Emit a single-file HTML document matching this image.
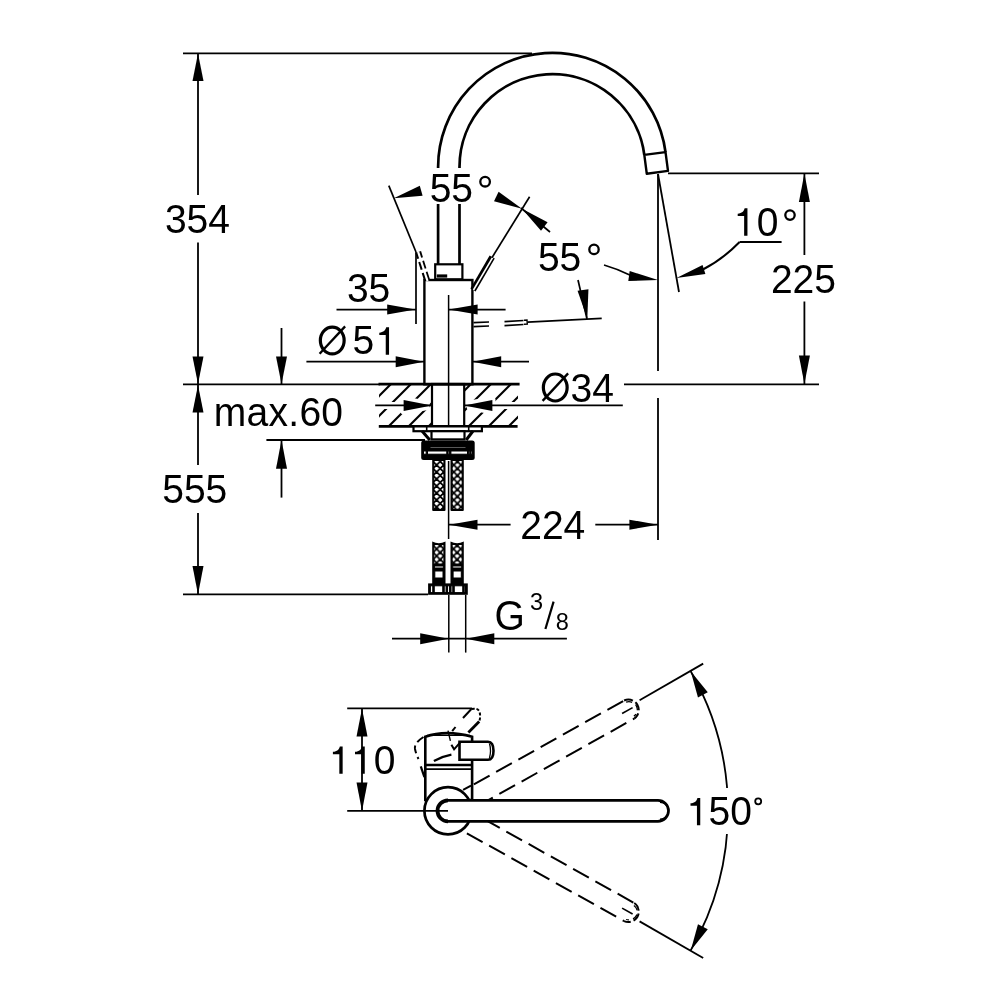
<!DOCTYPE html>
<html><head><meta charset="utf-8"><style>
html,body{margin:0;padding:0;background:#fff;overflow:hidden}
svg{display:block;will-change:transform}
text{font-family:"Liberation Sans",sans-serif;fill:#000;stroke:none}
.f{fill:#000;stroke:none}
</style></head><body>
<svg width="1000" height="1000" viewBox="0 0 1000 1000" stroke="#000" fill="none">
<defs>
<clipPath id="hatch"><path d="M379,385 H432 V426 H379 Z M464.2,385 H518 V426 H464.2 Z"/></clipPath>
<pattern id="d432" width="7.2" height="7.0" patternUnits="userSpaceOnUse" x="433.0" y="458.0">
<rect width="7.2" height="7.0" fill="#000"/>
<path d="M3.6,0.5 L6.6,3.5 L3.6,6.5 L0.6,3.5 Z M0,-3 L3,0 L0,3 L-3,0 Z M7.2,-3 L10.2,0 L7.2,3 L4.2,0 Z M0,4 L3,7 L0,10 L-3,7 Z M7.2,4 L10.2,7 L7.2,10 L4.2,7 Z" fill="#fff"/>
</pattern><pattern id="d450" width="7.2" height="7.0" patternUnits="userSpaceOnUse" x="453.8" y="461.5">
<rect width="7.2" height="7.0" fill="#000"/>
<path d="M3.6,0.5 L6.6,3.5 L3.6,6.5 L0.6,3.5 Z M0,-3 L3,0 L0,3 L-3,0 Z M7.2,-3 L10.2,0 L7.2,3 L4.2,0 Z M0,4 L3,7 L0,10 L-3,7 Z M7.2,4 L10.2,7 L7.2,10 L4.2,7 Z" fill="#fff"/>
</pattern><pattern id="e432" width="7.2" height="7.0" patternUnits="userSpaceOnUse" x="436.6" y="545.45">
<rect width="7.2" height="7.0" fill="#000"/>
<path d="M3.6,0.5 L6.6,3.5 L3.6,6.5 L0.6,3.5 Z M0,-3 L3,0 L0,3 L-3,0 Z M7.2,-3 L10.2,0 L7.2,3 L4.2,0 Z M0,4 L3,7 L0,10 L-3,7 Z M7.2,4 L10.2,7 L7.2,10 L4.2,7 Z" fill="#fff"/>
</pattern><pattern id="e450" width="7.2" height="7.0" patternUnits="userSpaceOnUse" x="453.5" y="545.45">
<rect width="7.2" height="7.0" fill="#000"/>
<path d="M3.6,0.5 L6.6,3.5 L3.6,6.5 L0.6,3.5 Z M0,-3 L3,0 L0,3 L-3,0 Z M7.2,-3 L10.2,0 L7.2,3 L4.2,0 Z M0,4 L3,7 L0,10 L-3,7 Z M7.2,4 L10.2,7 L7.2,10 L4.2,7 Z" fill="#fff"/>
</pattern>
</defs>
<line x1="183" y1="53.3" x2="532" y2="53.3" stroke-width="1.8" />
<line x1="198" y1="53" x2="198" y2="195" stroke-width="1.8" />
<line x1="198" y1="242.5" x2="198" y2="384" stroke-width="1.8" />
<path d="M198.00,53.50L192.50,81.00L203.50,81.00Z" class="f"/>
<path d="M198.00,384.00L203.50,356.50L192.50,356.50Z" class="f"/>
<text transform="translate(164.91,232.8) scale(0.98,1)" font-size="39.8" >354</text>
<line x1="183" y1="384.3" x2="380" y2="384.3" stroke-width="1.8" />
<line x1="378.5" y1="384.2" x2="519.6" y2="384.2" stroke-width="2.7" />
<line x1="624" y1="384.3" x2="819" y2="384.3" stroke-width="1.8" />
<line x1="198" y1="385" x2="198" y2="465" stroke-width="1.8" />
<line x1="198" y1="513" x2="198" y2="594.5" stroke-width="1.8" />
<path d="M198.00,385.00L192.50,412.60L203.50,412.60Z" class="f"/>
<path d="M198.00,594.40L203.50,566.00L192.50,566.00Z" class="f"/>
<text transform="translate(162.24,503.2) scale(0.98,1)" font-size="39.8" >555</text>
<line x1="183" y1="594.4" x2="428" y2="594.4" stroke-width="1.8" />
<line x1="281.5" y1="328" x2="281.5" y2="384" stroke-width="1.8" />
<path d="M281.50,384.00L287.00,356.40L276.00,356.40Z" class="f"/>
<line x1="281.5" y1="440" x2="281.5" y2="497.6" stroke-width="1.8" />
<path d="M281.50,440.00L276.00,468.80L287.00,468.80Z" class="f"/>
<line x1="266.4" y1="440" x2="425" y2="440" stroke-width="1.8" />
<text transform="translate(213.71,426.2) scale(0.98,1)" font-size="39.8" letter-spacing="0.3">max.60</text>
<path d="M438.09999999999997,264 L438.09999999999997,167 A114.2,114.2 0 0 1 665.52,152.09" fill="none" stroke-width="2.7"/>
<path d="M459.49999999999994,264 L459.49999999999994,167 A92.8,92.8 0 0 1 644.31,154.89" fill="none" stroke-width="2.7"/>
<rect x="430" y="168" width="38" height="36" fill="#fff" stroke="none"/>
<path d="M644.31,154.89L665.52,152.09L668.00,170.93L646.79,173.72Z" fill="none" stroke-width="2.4" stroke-linejoin="round"/>
<line x1="668" y1="173.3" x2="819" y2="173.3" stroke-width="1.8" />
<line x1="658" y1="174" x2="658" y2="371" stroke-width="1.8" />
<line x1="658" y1="398" x2="658" y2="540" stroke-width="1.8" />
<line x1="658" y1="174" x2="679" y2="292" stroke-width="1.8" />
<line x1="804.4" y1="173.5" x2="804.4" y2="255" stroke-width="1.8" />
<line x1="804.4" y1="301.5" x2="804.4" y2="384" stroke-width="1.8" />
<path d="M804.40,173.50L798.90,202.00L809.90,202.00Z" class="f"/>
<path d="M804.40,384.00L809.90,355.60L798.90,355.60Z" class="f"/>
<text transform="translate(770.94,293) scale(0.98,1)" font-size="39.8" >225</text>
<path d="M747.45,235.70 L747.45,208.28 L744.64,208.28 C743.94,211.13 741.99,213.39 737.70,213.66 L737.70,216.08 L744.14,216.08 L744.14,235.70 Z" class="f"/>
<text transform="translate(756.78,236) scale(0.98,1)" font-size="39.8" >0</text>
<circle cx="790" cy="215.1" r="4.7" fill="none" stroke-width="2.3"/>
<line x1="739.6" y1="242" x2="781.6" y2="242" stroke-width="1.8" />
<path d="M739.6,242 Q722,260 702,270" fill="none" stroke-width="2"/>
<path d="M676.50,278.00L705.42,274.09L702.58,264.91Z" class="f"/>
<rect x="435.2" y="264.3" width="27.2" height="15" fill="none" stroke-width="2.2"/>
<rect x="436.8" y="274.4" width="10.4" height="3.2" class="f"/>
<rect x="424.4" y="280" width="48" height="104.3" fill="none" stroke-width="2.4"/>
<line x1="448.6" y1="295" x2="448.6" y2="384" stroke-width="1.5" />
<path d="M473,290 L492.2,257" stroke-width="6"/>
<path d="M473.5,290 L492.6,257.6" stroke-width="1.6" stroke="#fff"/>
<line x1="492" y1="257.6" x2="529.6" y2="196.8" stroke-width="1.7" />
<path d="M427,280 L418.2,252" stroke-width="6" stroke-dasharray="8,3.5"/>
<path d="M427.5,281 L418.2,252" stroke-width="2.2" stroke="#fff"/>
<line x1="416" y1="252" x2="388.8" y2="185.6" stroke-width="1.7" />
<line x1="416" y1="252" x2="416" y2="324" stroke-width="1.7" />
<text transform="translate(429.64,202.1) scale(0.98,1)" font-size="39.8" >55</text>
<circle cx="485.1" cy="181.7" r="4.8" fill="none" stroke-width="2.3"/>
<path d="M393.80,198.30L422.59,195.71L419.81,185.69Z" class="f"/>
<path d="M522.00,208.80L498.59,191.72L494.01,201.28Z" class="f"/>
<path d="M522.00,208.80L541.01,230.65L547.59,222.35Z" class="f"/>
<line x1="521" y1="208" x2="550" y2="232" stroke-width="1.7" />
<text transform="translate(537.94,270.5) scale(0.98,1)" font-size="39.8" >55</text>
<circle cx="594" cy="249.4" r="4.7" fill="none" stroke-width="2.3"/>
<path d="M604,265 Q618,269 632,276" fill="none" stroke-width="1.5"/>
<path d="M658.00,280.00L629.68,271.05L628.32,280.95Z" class="f"/>
<line x1="578" y1="280" x2="587" y2="319" stroke-width="1.7" />
<path d="M587.30,318.80L588.44,289.19L577.56,290.81Z" class="f"/>
<line x1="527.5" y1="322.2" x2="601.7" y2="318.3" stroke-width="1.7" />
<line x1="473.5" y1="322.6" x2="489" y2="322.0" stroke-width="1.6" />
<line x1="504.5" y1="321.6" x2="523.5" y2="320.5" stroke-width="1.6" />
<line x1="473.5" y1="326.6" x2="489" y2="326.0" stroke-width="1.6" />
<line x1="504.5" y1="325.6" x2="523.5" y2="324.5" stroke-width="1.6" />
<path d="M524,320.3 L527,320.1 L527.3,324 L524,324.3" stroke-width="1.4"/>
<text transform="translate(346.91,302.3) scale(0.98,1)" font-size="39.8" >35</text>
<line x1="336.5" y1="309.6" x2="416" y2="309.6" stroke-width="1.7" />
<path d="M415.50,309.60L387.20,304.60L387.20,314.60Z" class="f"/>
<line x1="448.6" y1="309.6" x2="505.6" y2="309.6" stroke-width="1.7" />
<path d="M448.60,309.60L477.60,314.60L477.60,304.60Z" class="f"/>
<ellipse cx="332.25" cy="340.5" rx="11.9" ry="13.35" stroke-width="3.2"/>
<line x1="319.6" y1="353.8" x2="345.1" y2="326.4" stroke-width="2.3" />
<text transform="translate(352.54,354.4) scale(0.98,1)" font-size="39.8" >5</text>
<path d="M389.05,354.70 L389.05,327.28 L386.24,327.28 C385.54,330.13 383.59,332.39 379.30,332.66 L379.30,335.08 L385.74,335.08 L385.74,354.70 Z" class="f"/>
<line x1="306.4" y1="361.7" x2="424" y2="361.7" stroke-width="1.7" />
<path d="M424.00,361.70L395.70,356.20L395.70,367.20Z" class="f"/>
<line x1="472.4" y1="361.7" x2="529" y2="361.7" stroke-width="1.7" />
<path d="M472.40,361.70L501.20,367.20L501.20,356.20Z" class="f"/>
<line x1="378.8" y1="426.4" x2="517.6" y2="426.4" stroke-width="2.7" />
<rect x="432" y="384" width="32.2" height="42.4" fill="none" stroke-width="2.2"/>
<line x1="448.6" y1="384" x2="448.6" y2="426" stroke-width="1.5" />
<g clip-path="url(#hatch)" stroke-width="2.1"><line x1="335" y1="440" x2="405" y2="370"/><line x1="355" y1="440" x2="425" y2="370"/><line x1="375" y1="440" x2="445" y2="370"/><line x1="395" y1="440" x2="465" y2="370"/><line x1="415" y1="440" x2="485" y2="370"/><line x1="435" y1="440" x2="505" y2="370"/><line x1="455" y1="440" x2="525" y2="370"/><line x1="475" y1="440" x2="545" y2="370"/><line x1="495" y1="440" x2="565" y2="370"/></g>
<g stroke="#fff" stroke-width="7" stroke-linejoin="round"><path d="M379,405.4 H426"/><path d="M470,405.4 H520"/><path d="M426,404 L404,399.9 L404,410.9 L426,406.8 Z" fill="#fff"/><path d="M470,404 L492,399.9 L492,410.9 L470,406.8 Z" fill="#fff"/></g>
<line x1="375.2" y1="405.4" x2="432" y2="405.4" stroke-width="1.7" />
<path d="M432.00,405.40L403.60,399.90L403.60,410.90Z" class="f"/>
<line x1="464.2" y1="405.4" x2="622.8" y2="405.4" stroke-width="1.7" />
<path d="M464.20,405.40L492.40,410.90L492.40,399.90Z" class="f"/>
<ellipse cx="555.25" cy="387.5" rx="11.9" ry="13.5" stroke-width="3.2"/>
<line x1="542.6" y1="400.9" x2="568.1" y2="373.4" stroke-width="2.3" />
<text transform="translate(570.51,401.6) scale(0.98,1)" font-size="39.8" >34</text>
<rect x="413.5" y="426.4" width="68.4" height="4.8" fill="#fff" stroke-width="2.2"/>
<line x1="426.7" y1="426.4" x2="426.7" y2="431.2" stroke-width="1.6" />
<line x1="468.7" y1="426.4" x2="468.7" y2="431.2" stroke-width="1.6" />
<line x1="422" y1="431" x2="429.8" y2="440" stroke-width="3" />
<line x1="473" y1="431" x2="466.2" y2="440" stroke-width="3" />
<rect x="431.5" y="431.2" width="33" height="8.2" fill="#fff" stroke-width="2.2"/>
<rect x="421.2" y="440.4" width="53.5" height="19.6" rx="2.5" class="f"/>
<rect x="423.5" y="451" width="49" height="3.2" fill="#fff"/>
<rect x="426.2" y="451" width="1.3" height="3.2" fill="#000"/>
<rect x="446.8" y="451" width="1.3" height="3.2" fill="#000"/>
<rect x="449.6" y="451" width="1.3" height="3.2" fill="#000"/>
<rect x="467.5" y="451" width="1.3" height="3.2" fill="#000"/>
<rect x="469.8" y="451" width="1.3" height="3.2" fill="#000"/>
<rect x="424" y="444" width="48" height="1" fill="#c8c8c8"/>
<rect x="430" y="447" width="36" height="1.5" fill="#b0b0b0"/>
<rect x="432.2" y="458" width="13.3" height="53" rx="1" class="f"/>
<rect x="433.8" y="460.5" width="10.1" height="49" fill="url(#d432)"/>
<rect x="450.5" y="458" width="13.3" height="53" rx="1" class="f"/>
<rect x="452.1" y="460.5" width="10.1" height="49" fill="url(#d450)"/>
<line x1="448.6" y1="461" x2="448.6" y2="539" stroke-width="1.5" />
<path d="M432.2,541.5 Q438.8,545 445.5,541.5 V584 H432.2 Z" class="f"/>
<rect x="433.8" y="544.5" width="10.1" height="19.5" fill="url(#e432)"/>
<rect x="434.4" y="566" width="9" height="2" fill="#fff"/>
<rect x="434.8" y="571" width="8.2" height="7" fill="#fff"/>
<rect x="434.4" y="580" width="9" height="0.8" fill="#888"/>
<path d="M450.5,541.5 Q457.1,545 463.8,541.5 V584 H450.5 Z" class="f"/>
<rect x="452.1" y="544.5" width="10.1" height="19.5" fill="url(#e450)"/>
<rect x="452.7" y="566" width="9" height="2" fill="#fff"/>
<rect x="453.1" y="571" width="8.2" height="7" fill="#fff"/>
<rect x="452.7" y="580" width="9" height="0.8" fill="#888"/>
<rect x="428.1" y="583.4" width="39.7" height="11.4" class="f"/>
<rect x="430.4" y="585.8" width="35.1" height="6.8" fill="#fff"/>
<rect x="432.75" y="585.8" width="1.5" height="6.8" fill="#000"/>
<rect x="442.75" y="585.8" width="1.5" height="6.8" fill="#000"/>
<rect x="446.05" y="585.8" width="1.5" height="6.8" fill="#000"/>
<rect x="449.55" y="585.8" width="1.5" height="6.8" fill="#000"/>
<rect x="452.75" y="585.8" width="1.5" height="6.8" fill="#000"/>
<rect x="462.75" y="585.8" width="1.5" height="6.8" fill="#000"/>
<line x1="449" y1="524.7" x2="510.6" y2="524.7" stroke-width="1.7" />
<path d="M449.00,524.70L477.50,529.70L477.50,519.70Z" class="f"/>
<line x1="595.3" y1="524.7" x2="658" y2="524.7" stroke-width="1.7" />
<path d="M658.00,524.70L629.40,519.70L629.40,529.70Z" class="f"/>
<text transform="translate(520.24,538.6) scale(0.98,1)" font-size="39.8" >224</text>
<line x1="448.8" y1="595" x2="448.8" y2="652.6" stroke-width="1.5" />
<line x1="465.7" y1="595" x2="465.7" y2="652.6" stroke-width="1.5" />
<line x1="392" y1="638.7" x2="566.9" y2="638.7" stroke-width="1.7" />
<path d="M448.80,638.70L420.20,633.20L420.20,644.20Z" class="f"/>
<path d="M465.70,638.70L494.30,644.20L494.30,633.20Z" class="f"/>
<text transform="translate(494.4,629.6) scale(0.98,1.06)" font-size="39.8">G</text>
<text transform="translate(529.90,610.2) scale(0.98,1)" font-size="24" >3</text>
<line x1="553.6" y1="601.6" x2="545.4" y2="629" stroke-width="2.2" />
<text transform="translate(555.78,629.8) scale(0.98,1)" font-size="24" >8</text>
<line x1="347.2" y1="708.4" x2="472" y2="708.4" stroke-width="1.8" />
<line x1="362" y1="708.5" x2="362" y2="811" stroke-width="1.8" />
<path d="M362.00,708.50L356.50,736.50L367.50,736.50Z" class="f"/>
<path d="M362.00,811.00L367.50,782.50L356.50,782.50Z" class="f"/>
<path d="M342.65,773.80 L342.65,746.38 L339.84,746.38 C339.14,749.23 337.19,751.49 332.90,751.76 L332.90,754.18 L339.33,754.18 L339.33,773.80 Z" class="f"/>
<path d="M364.75,773.80 L364.75,746.38 L361.94,746.38 C361.24,749.23 359.29,751.49 355.00,751.76 L355.00,754.18 L361.44,754.18 L361.44,773.80 Z" class="f"/>
<text transform="translate(373.78,774) scale(0.98,1)" font-size="39.8" >0</text>
<line x1="465.3" y1="808.6" x2="634.2" y2="903.0" stroke-width="2" stroke-dasharray="18,7.5" stroke-dashoffset="4"/>
<line x1="455.1" y1="826.7" x2="624.1" y2="921.1" stroke-width="2" stroke-dasharray="18,7.5" stroke-dashoffset="12"/>
<path d="M634.2,903.0 A10.4,10.4 0 0 1 624.1,921.1" stroke-width="2" stroke-dasharray="9,3"/>
<path d="M633.9,905.5 A8.5,8 0 0 1 626.1,919.5" stroke-width="1.3" stroke-dasharray="6,4"/>
<line x1="622.1" y1="908.1" x2="632.6" y2="914.0" stroke-width="1.6"/>
<line x1="639.6" y1="921.4" x2="703.2" y2="958.0" stroke-width="1.8"/>
<line x1="455.1" y1="794.9" x2="624.1" y2="700.5" stroke-width="2" stroke-dasharray="18,7.5" stroke-dashoffset="4"/>
<line x1="465.3" y1="813.0" x2="634.2" y2="718.6" stroke-width="2" stroke-dasharray="18,7.5" stroke-dashoffset="12"/>
<path d="M624.1,700.5 A10.4,10.4 0 0 1 634.2,718.6" stroke-width="2" stroke-dasharray="9,3"/>
<path d="M626.1,702.1 A8.5,8 0 0 1 633.9,716.1" stroke-width="1.3" stroke-dasharray="6,4"/>
<line x1="622.1" y1="713.5" x2="632.6" y2="707.6" stroke-width="1.6"/>
<line x1="639.6" y1="700.2" x2="703.2" y2="663.6" stroke-width="1.8"/>
<path d="M425.3,800 L425.3,736.7 Q446,729.5 472.1,736.7 L472.1,800 Z" fill="#fff" stroke-width="2.6"/>
<line x1="427" y1="735.3" x2="470" y2="735.3" stroke-width="1.2" />
<line x1="425.3" y1="765" x2="472.1" y2="765" stroke-width="2.6" />
<line x1="425.3" y1="769.1" x2="472.1" y2="769.1" stroke-width="1.8" />
<line x1="463.1" y1="789.8" x2="471" y2="785.6" stroke-width="2" />
<path d="M459.5,741.7 L488,741.7 Q493.5,742 493.5,750.7 Q493.5,759.7 488,759.7 L459.5,759.7 Z" fill="#fff" stroke-width="2.6"/>
<path d="M489.5,743.5 Q491.5,750.7 489.5,758" stroke-width="1.3"/>
<path d="M423.5,737 Q414,743 415,749 Q416,754 418.5,759" stroke-width="2" stroke-dasharray="8,4"/>
<line x1="420.8" y1="766.4" x2="424.4" y2="777.2" stroke-width="2.2" />
<path d="M433.9,761 Q442,756.5 451.4,754.7" stroke-width="2.2"/>
<path d="M451.4,744.8 L454.1,749.3 L460.4,742.1" stroke-width="2"/>
<line x1="452.2" y1="731.2" x2="455.5" y2="727" stroke-width="2" />
<line x1="463" y1="718" x2="471.4" y2="709" stroke-width="2" />
<path d="M471.4,709 Q478,707.5 479.6,712 Q480.8,717 479.2,721.6" stroke-width="2" stroke-dasharray="3,2"/>
<line x1="468.4" y1="732.4" x2="479.2" y2="721.6" stroke-width="2.8" />
<line x1="448" y1="730.6" x2="450.4" y2="740.8" stroke-width="1.4" />
<circle cx="448" cy="810.8" r="23.6" fill="#fff" stroke-width="2.7"/>
<path d="M448,800.3 L658,800.3 A10.5,10.5 0 0 1 658,821.3 L448,821.3" fill="#fff" stroke-width="2.7"/>
<path d="M448,800.3 A10.5,10.5 0 0 0 448,821.3" stroke-width="3.8"/>
<path d="M660,802.3 A8.5,8.5 0 0 1 660,819.3" stroke-width="1.5"/>
<line x1="347.2" y1="810.8" x2="448" y2="810.8" stroke-width="1.8" />
<path d="M690.7,671.2 A280,280 0 0 1 690.7,950.4" fill="none" stroke-width="1.8"/>
<path d="M690.73,671.22L697.98,697.39L707.77,692.37Z" class="f"/>
<path d="M690.73,950.38L707.77,929.23L697.98,924.21Z" class="f"/>
<rect x="684" y="788" width="82" height="46" fill="#fff" stroke="none"/>
<path d="M700.25,825.30 L700.25,797.88 L697.44,797.88 C696.74,800.73 694.79,802.99 690.50,803.26 L690.50,805.68 L696.94,805.68 L696.94,825.30 Z" class="f"/>
<text transform="translate(708.54,824.9) scale(0.98,1)" font-size="39.8" >50</text>
<circle cx="758.2" cy="801.3" r="3" fill="none" stroke-width="1.8"/>
</svg></body></html>
